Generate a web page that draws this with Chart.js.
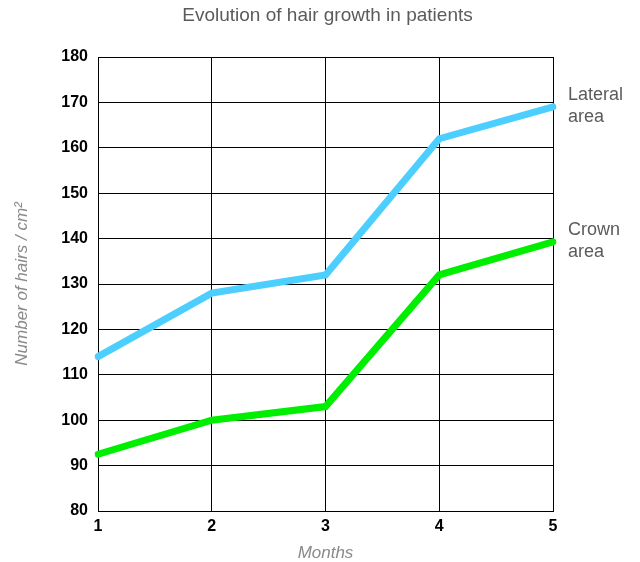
<!DOCTYPE html>
<html>
<head>
<meta charset="utf-8">
<script src="https://cdn.jsdelivr.net/npm/chart.js@4"></script>
<style>
  html, body { margin: 0; padding: 0; background: #fff; }
  #wrap { width: 640px; height: 562px; position: relative; }
</style>
</head>
<body>
<div id="wrap"><canvas id="c"></canvas></div>
<script>
const months = ['1', '2', '3', '4', '5'];
const lateralArea = [114, 128, 132, 162, 169];
const crownArea = [92.5, 100, 103, 132, 139.3];
const seriesLabels = [['Lateral', 'area'], ['Crown', 'area']];
const yTicks = [80, 90, 100, 110, 120, 130, 140, 150, 160, 170, 180];
const chartTitle = 'Evolution of hair growth in patients';

const FONT = "'Liberation Sans', Arial, Helvetica, sans-serif";

const extras = {
  id: 'extras',
  afterDraw(chart) {
    const ctx = chart.ctx;
    const ca = chart.chartArea;
    ctx.save();
    ctx.font = '19px ' + FONT;
    ctx.fillStyle = '#5b5b5b';
    ctx.textAlign = 'center';
    ctx.textBaseline = 'middle';
    ctx.fillText(chartTitle, (ca.left + ca.right) / 2 + 2, 16);
    ctx.font = '18px ' + FONT;
    ctx.textAlign = 'left';
    chart.data.datasets.forEach((ds, i) => {
      const meta = chart.getDatasetMeta(i);
      const last = meta.data[meta.data.length - 1];
      const lines = seriesLabels[i];
      const x = ca.right + 15;
      ctx.fillText(lines[0], x, last.y - 12);
      ctx.fillText(lines[1], x, last.y + 10);
    });
    ctx.restore();
  }
};

new Chart(document.getElementById('c'), {
  type: 'line',
  data: {
    labels: months,
    datasets: [
      { label: 'Lateral area', data: lateralArea, borderColor: '#4ccfff', borderWidth: 7, pointRadius: 0, tension: 0, borderCapStyle: 'round', borderJoinStyle: 'miter' },
      { label: 'Crown area', data: crownArea, borderColor: '#00ee00', borderWidth: 7, pointRadius: 0, tension: 0, borderCapStyle: 'round', borderJoinStyle: 'miter' }
    ]
  },
  options: {
    responsive: true,
    maintainAspectRatio: false,
    animation: false,
    layout: { padding: { left: 0, right: 87, top: 57, bottom: 0 } },
    plugins: {
      legend: { display: false },
      tooltip: { enabled: false },
      title: { display: false }
    },
    scales: {
      x: {
        type: 'category',
        offset: false,
        afterFit(scale) { scale.height = 51; },
        grid: { color: '#000', lineWidth: 1, drawTicks: false },
        border: { color: '#000', width: 1 },
        ticks: { color: '#000', font: { family: FONT, size: 16, weight: 'bold' }, padding: 6, maxRotation: 0 },
        title: { display: true, text: 'Months', color: '#8a8a8a', font: { family: FONT, size: 17, style: 'italic', lineHeight: 1 }, padding: { top: 0, bottom: 0 } }
      },
      y: {
        min: 80, max: 180,
        afterFit(scale) { scale.width = 98; },
        afterBuildTicks(scale) { scale.ticks = yTicks.map(v => ({ value: v })); },
        grid: { color: '#000', lineWidth: 1, drawTicks: false },
        border: { color: '#000', width: 1 },
        ticks: { color: '#000', font: { family: FONT, size: 16, weight: 'bold' }, padding: 10 },
        title: { display: true, text: 'Number of hairs / cm²', color: '#8a8a8a', font: { family: FONT, size: 17, style: 'italic' }, padding: { top: 12, bottom: 0 } }
      }
    }
  },
  plugins: [extras]
});
</script>
</body>
</html>
